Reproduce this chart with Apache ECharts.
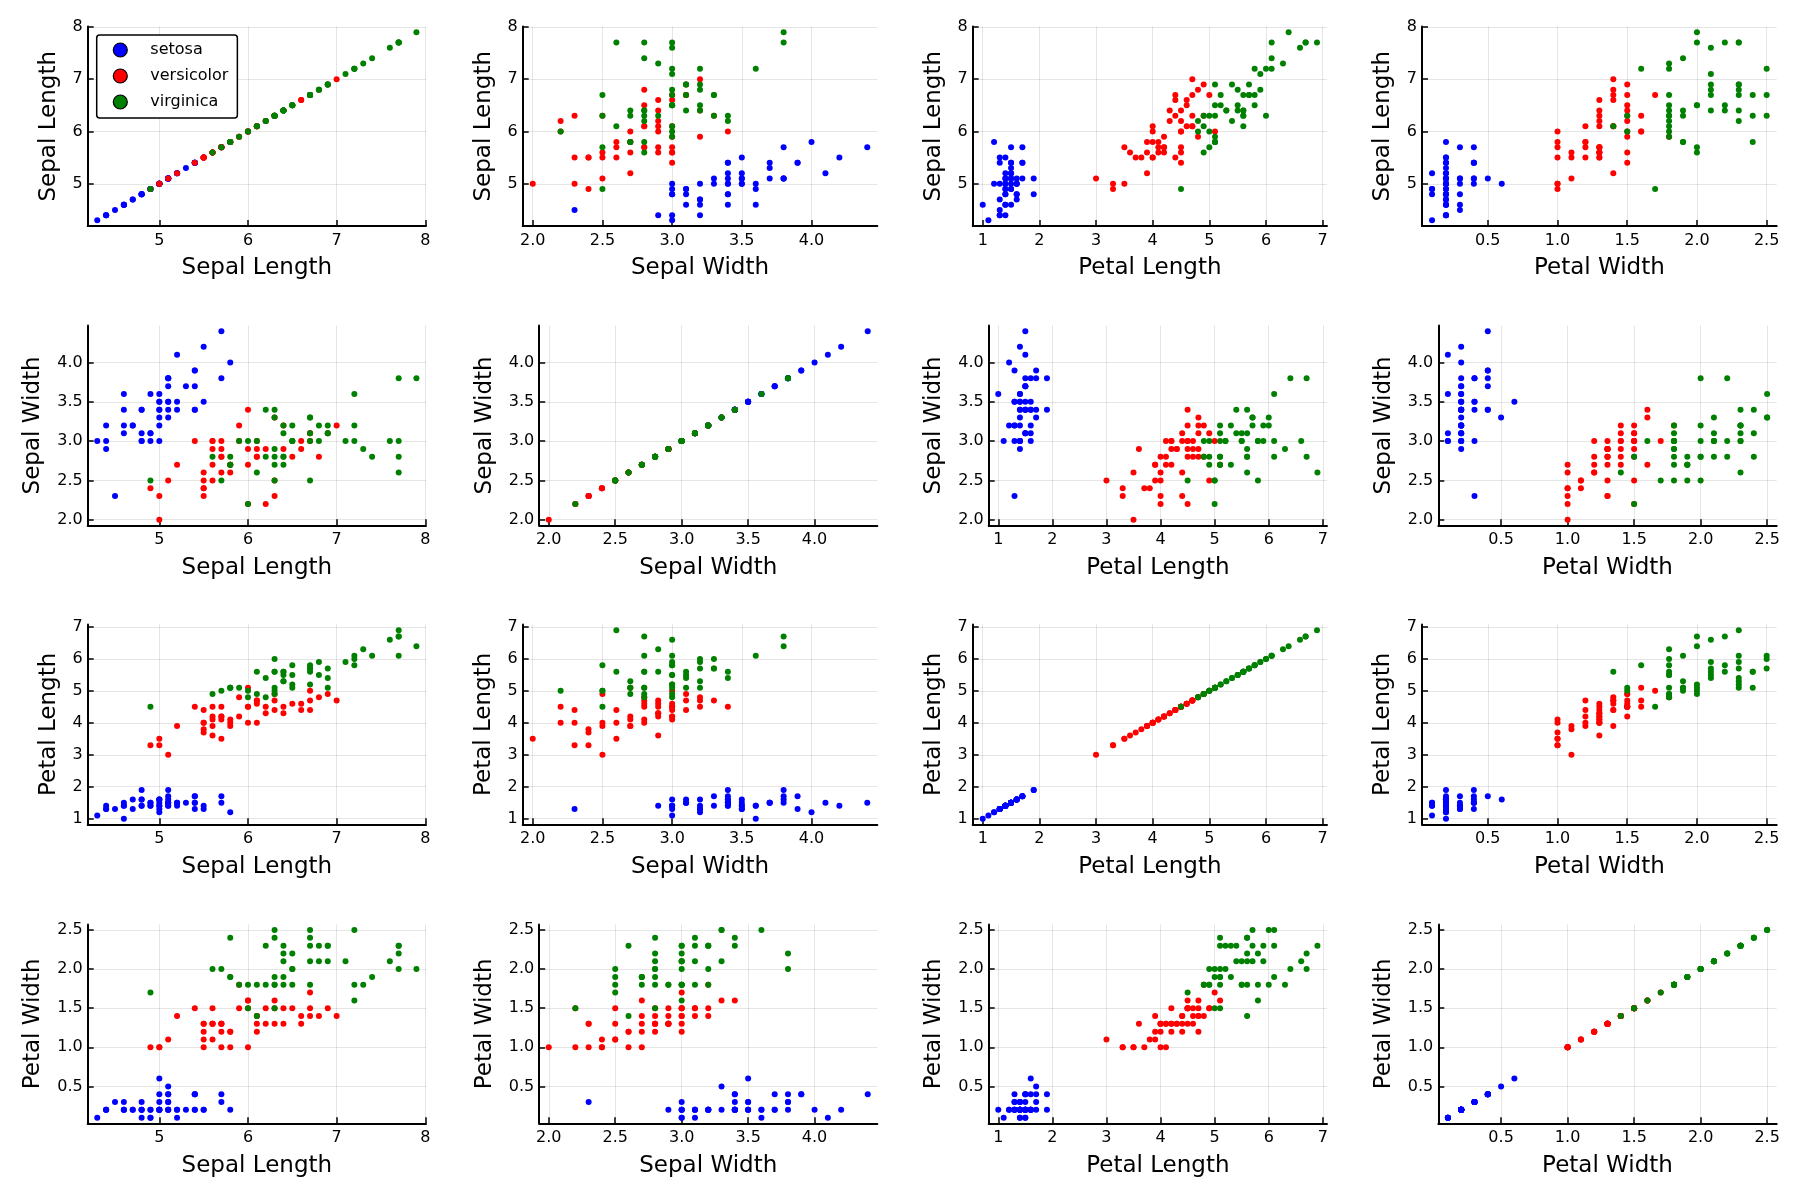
<!DOCTYPE html>
<html><head><meta charset="utf-8">
<script src="https://cdn.jsdelivr.net/npm/echarts@6/dist/echarts.min.js"></script>
<style>html,body{margin:0;padding:0;background:#fff}#c{width:1800px;height:1200px}</style>
</head><body><div id="c"></div>
<script>
// ---- data (iris) ----
const varNames = ['Sepal Length', 'Sepal Width', 'Petal Length', 'Petal Width'];
const speciesNames = ['setosa', 'versicolor', 'virginica'];
const speciesColors = ['#0000ff', '#ff0000', '#008000'];
const speciesCounts = [50, 50, 50];

const sepalLength = [
5.1,4.9,4.7,4.6,5.0,5.4,4.6,5.0,4.4,4.9,5.4,4.8,4.8,4.3,5.8,5.7,5.4,5.1,5.7,5.1,5.4,5.1,4.6,5.1,4.8,5.0,5.0,5.2,5.2,4.7,4.8,5.4,5.2,5.5,4.9,5.0,5.5,4.9,4.4,5.1,5.0,4.5,4.4,5.0,5.1,4.8,5.1,4.6,5.3,5.0,
7.0,6.4,6.9,5.5,6.5,5.7,6.3,4.9,6.6,5.2,5.0,5.9,6.0,6.1,5.6,6.7,5.6,5.8,6.2,5.6,5.9,6.1,6.3,6.1,6.4,6.6,6.8,6.7,6.0,5.7,5.5,5.5,5.8,6.0,5.4,6.0,6.7,6.3,5.6,5.5,5.5,6.1,5.8,5.0,5.6,5.7,5.7,6.2,5.1,5.7,
6.3,5.8,7.1,6.3,6.5,7.6,4.9,7.3,6.7,7.2,6.5,6.4,6.8,5.7,5.8,6.4,6.5,7.7,7.7,6.0,6.9,5.6,7.7,6.3,6.7,7.2,6.2,6.1,6.4,7.2,7.4,7.9,6.4,6.3,6.1,7.7,6.3,6.4,6.0,6.9,6.7,6.9,5.8,6.8,6.7,6.7,6.3,6.5,6.2,5.9];
const sepalWidth = [
3.5,3.0,3.2,3.1,3.6,3.9,3.4,3.4,2.9,3.1,3.7,3.4,3.0,3.0,4.0,4.4,3.9,3.5,3.8,3.8,3.4,3.7,3.6,3.3,3.4,3.0,3.4,3.5,3.4,3.2,3.1,3.4,4.1,4.2,3.1,3.2,3.5,3.6,3.0,3.4,3.5,2.3,3.2,3.5,3.8,3.0,3.8,3.2,3.7,3.3,
3.2,3.2,3.1,2.3,2.8,2.8,3.3,2.4,2.9,2.7,2.0,3.0,2.2,2.9,2.9,3.1,3.0,2.7,2.2,2.5,3.2,2.8,2.5,2.8,2.9,3.0,2.8,3.0,2.9,2.6,2.4,2.4,2.7,2.7,3.0,3.4,3.1,2.3,3.0,2.5,2.6,3.0,2.6,2.3,2.7,3.0,2.9,2.9,2.5,2.8,
3.3,2.7,3.0,2.9,3.0,3.0,2.5,2.9,2.5,3.6,3.2,2.7,3.0,2.5,2.8,3.2,3.0,3.8,2.6,2.2,3.2,2.8,2.8,2.7,3.3,3.2,2.8,3.0,2.8,3.0,2.8,3.8,2.8,2.8,2.6,3.0,3.4,3.1,3.0,3.1,3.1,3.1,2.7,3.2,3.3,3.0,2.5,3.0,3.4,3.0];
const petalLength = [
1.4,1.4,1.3,1.5,1.4,1.7,1.4,1.5,1.4,1.5,1.5,1.6,1.4,1.1,1.2,1.5,1.3,1.4,1.7,1.5,1.7,1.5,1.0,1.7,1.9,1.6,1.6,1.5,1.4,1.6,1.6,1.5,1.5,1.4,1.5,1.2,1.3,1.4,1.3,1.5,1.3,1.3,1.3,1.6,1.9,1.4,1.6,1.4,1.5,1.4,
4.7,4.5,4.9,4.0,4.6,4.5,4.7,3.3,4.6,3.9,3.5,4.2,4.0,4.7,3.6,4.4,4.5,4.1,4.5,3.9,4.8,4.0,4.9,4.7,4.3,4.4,4.8,5.0,4.5,3.5,3.8,3.7,3.9,5.1,4.5,4.5,4.7,4.4,4.1,4.0,4.4,4.6,4.0,3.3,4.2,4.2,4.2,4.3,3.0,4.1,
6.0,5.1,5.9,5.6,5.8,6.6,4.5,6.3,5.8,6.1,5.1,5.3,5.5,5.0,5.1,5.3,5.5,6.7,6.9,5.0,5.7,4.9,6.7,4.9,5.7,6.0,4.8,4.9,5.6,5.8,6.1,6.4,5.6,5.1,5.6,6.1,5.6,5.5,4.8,5.4,5.6,5.1,5.1,5.9,5.7,5.2,5.0,5.2,5.4,5.1];
const petalWidth = [
0.2,0.2,0.2,0.2,0.2,0.4,0.3,0.2,0.2,0.1,0.2,0.2,0.1,0.1,0.2,0.4,0.4,0.3,0.3,0.3,0.2,0.4,0.2,0.5,0.2,0.2,0.4,0.2,0.2,0.2,0.2,0.4,0.1,0.2,0.2,0.2,0.2,0.1,0.2,0.2,0.3,0.3,0.2,0.6,0.4,0.3,0.2,0.2,0.2,0.2,
1.4,1.5,1.5,1.3,1.5,1.3,1.6,1.0,1.3,1.4,1.0,1.5,1.0,1.4,1.3,1.4,1.5,1.0,1.5,1.1,1.8,1.3,1.5,1.2,1.3,1.4,1.4,1.7,1.5,1.0,1.1,1.0,1.2,1.6,1.5,1.6,1.5,1.3,1.3,1.3,1.2,1.4,1.2,1.0,1.3,1.2,1.3,1.3,1.1,1.3,
2.5,1.9,2.1,1.8,2.2,2.1,1.7,1.8,1.8,2.5,2.0,1.9,2.1,2.0,2.4,2.3,1.8,2.2,2.3,1.5,2.3,2.0,2.0,1.8,2.1,1.8,1.8,1.8,2.1,1.6,1.9,2.0,2.2,1.5,1.4,2.3,2.4,1.8,1.8,2.1,2.4,2.3,1.9,2.3,2.5,2.3,1.9,2.0,2.3,1.8];

// tick labels
const ticksSepalLength = [5, 6, 7, 8];
const ticksSepalWidth = [2.0, 2.5, 3.0, 3.5, 4.0];
const ticksPetalLength = [1, 2, 3, 4, 5, 6, 7];
const ticksPetalWidth = [0.5, 1.0, 1.5, 2.0, 2.5];

const vars = [sepalLength, sepalWidth, petalLength, petalWidth];
const ticks = [ticksSepalLength, ticksSepalWidth, ticksPetalLength, ticksPetalWidth];
const decimals = [0, 1, 0, 1];

// ---- layout ----
const rowTop = [26.5, 325.5, 624.5, 924.4];
const rowBottom = [226, 525.3, 824.3, 1123.3];
const colRight = [426, 877.3, 1327, 1776.7];
const colLeftNarrow = [87.7, 522.7, 972.7, 1422];
const colLeftWide = [87.7, 539.2, 988.7, 1438.3];
const FONT = 'DejaVu Sans';

function limits(arr) {
  const mn = Math.min(...arr), mx = Math.max(...arr);
  const pad = 0.03 * (mx - mn);
  return [mn - pad, mx + pad];
}

const grids = [], xAxes = [], yAxes = [], series = [];
let gi = 0;
for (let r = 0; r < 4; r++) {
  for (let c = 0; c < 4; c++) {
    const wide = decimals[r] === 1;
    const left = wide ? colLeftWide[c] : colLeftNarrow[c];
    grids.push({ left: left, top: rowTop[r], width: colRight[c] - left, height: rowBottom[r] - rowTop[r], containLabel: false, outerBoundsMode: 'none' });
    const xl = limits(vars[c]), yl = limits(vars[r]);
    const common = {
      type: 'value', gridIndex: gi, nameLocation: 'middle',
      nameTextStyle: { fontFamily: FONT, fontSize: 23, color: '#000' },
      axisLine: { show: true, onZero: false, lineStyle: { color: '#000', width: 2 } },
      splitLine: { show: true, lineStyle: { color: 'rgba(0,0,0,0.1)', width: 1 } },
    };
    xAxes.push(Object.assign({}, common, {
      name: varNames[c], nameGap: 31,
      min: xl[0], max: xl[1],
      axisTick: { show: true, inside: true, length: 6, lineStyle: { color: '#000', width: 1.5 }, customValues: ticks[c] },
      axisLabel: { show: true, margin: 7, fontFamily: FONT, fontSize: 16, color: '#000', customValues: ticks[c],
        formatter: (v => Number(v).toFixed(decimals[c])) }
    }));
    yAxes.push(Object.assign({}, common, {
      name: varNames[r], nameGap: wide ? 43 : 27, nameRotate: 90,
      min: yl[0], max: yl[1],
      axisTick: { show: true, inside: true, length: 6, lineStyle: { color: '#000', width: 1.5 }, customValues: ticks[r] },
      axisLabel: { show: true, margin: 5, fontFamily: FONT, fontSize: 16, color: '#000', customValues: ticks[r],
        formatter: (v => Number(v).toFixed(decimals[r])) }
    }));
    let start = 0;
    for (let s = 0; s < 3; s++) {
      const pts = [];
      for (let k = start; k < start + speciesCounts[s]; k++) pts.push([vars[c][k], vars[r][k]]);
      start += speciesCounts[s];
      series.push({
        type: 'scatter', name: speciesNames[s], xAxisIndex: gi, yAxisIndex: gi,
        data: pts, symbol: 'circle', symbolSize: 6,
        itemStyle: { color: speciesColors[s], opacity: 1 },
        emphasis: { disabled: true }, z: 2 + s
      });
    }
    gi++;
  }
}

const chart = echarts.init(document.getElementById('c'), null, { renderer: 'canvas' });
chart.setOption({
  backgroundColor: '#fff',
  animation: false,
  textStyle: { fontFamily: FONT },
  legend: {
    data: speciesNames, orient: 'vertical', left: 96.7, top: 35,
    padding: [7, 9, 8, 16], itemGap: 10, itemWidth: 14, itemHeight: 14,
    icon: 'circle', borderColor: '#000', borderWidth: 1.5, borderRadius: 3,
    backgroundColor: '#fff',
    itemStyle: { borderColor: '#000', borderWidth: 1.2 },
    textStyle: { fontFamily: FONT, fontSize: 16, color: '#000', padding: [0, 0, 0, 18], lineHeight: 14 },
    selectedMode: false
  },
  grid: grids, xAxis: xAxes, yAxis: yAxes, series: series
});
</script></body></html>
